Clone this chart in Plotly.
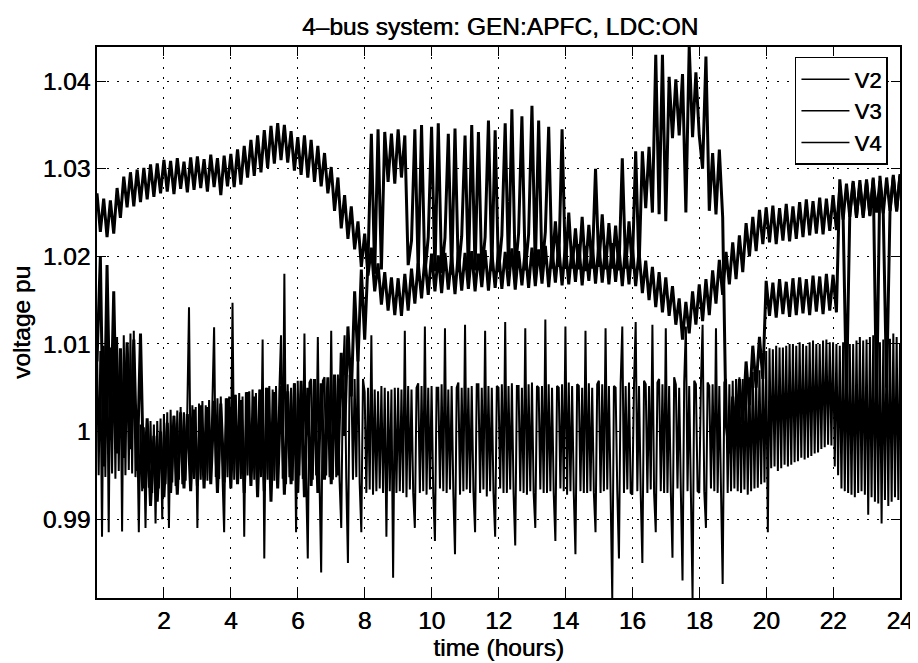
import numpy as np
import plotly.graph_objects as go

# sample times in hours: 6 minute steps for V2/V3, 3 minute steps for V4
hours = np.linspace(0, 24, 241)
hours_v4 = np.linspace(0, 24, 481)

# bus voltages (pu), one row per hour
v2 = [
    1.0272, 1.0228, 1.0266, 1.0222, 1.0264, 1.0226, 1.0278, 1.0244, 1.0291, 1.0256,
    1.0296, 1.0257, 1.0299, 1.0262, 1.0301, 1.0265, 1.0305, 1.0268, 1.0306, 1.0272,
    1.0310, 1.0274, 1.0309, 1.0271, 1.0312, 1.0277, 1.0308, 1.0273, 1.0313, 1.0276,
    1.0314, 1.0278, 1.0311, 1.0274, 1.0316, 1.0279, 1.0312, 1.0270, 1.0315, 1.0280,
    1.0317, 1.0279, 1.0322, 1.0282, 1.0326, 1.0290, 1.0333, 1.0292, 1.0338, 1.0296,
    1.0344, 1.0301, 1.0349, 1.0306, 1.0352, 1.0310, 1.0350, 1.0307, 1.0343, 1.0298,
    1.0336, 1.0293, 1.0338, 1.0290, 1.0333, 1.0285, 1.0326, 1.0280, 1.0318, 1.0272,
    1.0302, 1.0252, 1.0290, 1.0232, 1.0270, 1.0220, 1.0257, 1.0208, 1.0240, 1.0188,
    1.0226, 1.0178, 1.0210, 1.0160, 1.0192, 1.0145, 1.0182, 1.0138, 1.0176, 1.0133,
    1.0175, 1.0132, 1.0180, 1.0138, 1.0186, 1.0146, 1.0192, 1.0152, 1.0198, 1.0156,
    1.0203, 1.0160, 1.0201, 1.0158, 1.0204, 1.0162, 1.0200, 1.0157, 1.0205, 1.0161,
    1.0204, 1.0163, 1.0206, 1.0160, 1.0203, 1.0165, 1.0207, 1.0161, 1.0205, 1.0164,
    1.0207, 1.0163, 1.0205, 1.0166, 1.0209, 1.0162, 1.0206, 1.0167, 1.0208, 1.0164,
    1.0210, 1.0166, 1.0208, 1.0169, 1.0212, 1.0165, 1.0209, 1.0170, 1.0211, 1.0167,
    1.0213, 1.0168, 1.0211, 1.0171, 1.0214, 1.0167, 1.0212, 1.0172, 1.0215, 1.0169,
    1.0214, 1.0170, 1.0212, 1.0168, 1.0215, 1.0171, 1.0210, 1.0166, 1.0213, 1.0168,
    1.0212, 1.0166, 1.0206, 1.0158, 1.0195, 1.0150, 1.0188, 1.0142, 1.0182, 1.0136,
    1.0176, 1.0132, 1.0166, 1.0122, 1.0152, 1.0105, 1.0148, 1.0112, 1.0160, 1.0122,
    1.0168, 1.0126, 1.0174, 1.0133, 1.0184, 1.0146, 1.0196, 1.0156, 1.0205, 1.0168,
    1.0216, 1.0174, 1.0224, 1.0182, 1.0238, 1.0200, 1.0245, 1.0206, 1.0253, 1.0214,
    1.0256, 1.0216, 1.0258, 1.0214, 1.0255, 1.0218, 1.0260, 1.0217, 1.0257, 1.0220,
    1.0262, 1.0222, 1.0265, 1.0224, 1.0263, 1.0226, 1.0267, 1.0225, 1.0266, 1.0229,
    1.0270, 1.0230, 1.0278, 1.0242, 1.0283, 1.0245, 1.0284, 1.0246, 1.0282, 1.0244,
    1.0285, 1.0247, 1.0288, 1.0250, 1.0286, 1.0249, 1.0290, 1.0252, 1.0291, 1.0253,
    1.0292,
]

v3 = [
    1.0080, 1.0200, 0.9960, 1.0190, 0.9990, 1.0160, 0.9975, 1.0095, 0.9970, 1.0102,
    0.9980, 1.0105, 0.9955, 1.0112, 0.9935, 1.0015, 0.9915, 0.9995, 0.9920, 1.0000,
    0.9925, 1.0010, 0.9930, 1.0018, 0.9928, 1.0022, 0.9935, 1.0020, 0.9932, 1.0025,
    0.9938, 1.0030, 0.9935, 1.0028, 0.9940, 1.0035, 0.9930, 1.0032, 0.9942, 1.0038,
    0.9935, 1.0042, 0.9940, 1.0036, 0.9930, 1.0045, 0.9938, 1.0040, 0.9925, 1.0048,
    0.9932, 1.0050, 0.9920, 1.0045, 0.9935, 1.0052, 0.9928, 1.0046, 0.9940, 1.0055,
    0.9930, 1.0058, 0.9925, 1.0050, 0.9938, 1.0060, 0.9930, 1.0055, 0.9945, 1.0062,
    0.9940, 1.0065, 0.9950, 1.0090, 0.9995, 1.0120, 1.0040, 1.0160, 1.0080, 1.0185,
    1.0105, 1.0195, 1.0340, 1.0180, 1.0345, 1.0185, 1.0342, 1.0285, 1.0340, 1.0283,
    1.0345, 1.0290, 1.0338, 1.0190, 1.0218, 1.0345, 1.0182, 1.0350, 1.0180, 1.0222,
    1.0348, 1.0183, 1.0352, 1.0181, 1.0221, 1.0340, 1.0179, 1.0346, 1.0182, 1.0223,
    1.0338, 1.0180, 1.0350, 1.0184, 1.0342, 1.0181, 1.0222, 1.0355, 1.0183, 1.0344,
    1.0182, 1.0224, 1.0352, 1.0185, 1.0368, 1.0183, 1.0226, 1.0360, 1.0184, 1.0225,
    1.0372, 1.0186, 1.0355, 1.0185, 1.0228, 1.0348, 1.0186, 1.0240, 1.0188, 1.0345,
    1.0187, 1.0250, 1.0186, 1.0232, 1.0185, 1.0245, 1.0183, 1.0236, 1.0186, 1.0300,
    1.0188, 1.0248, 1.0185, 1.0238, 1.0186, 1.0235, 1.0184, 1.0312, 1.0186, 1.0240,
    1.0187, 1.0320, 1.0185, 1.0320, 1.0255, 1.0325, 1.0250, 1.0430, 1.0248, 1.0430,
    1.0240, 1.0405, 1.0335, 1.0402, 1.0338, 1.0408, 1.0250, 1.0440, 1.0336, 1.0410,
    1.0338, 1.0300, 1.0428, 1.0252, 1.0318, 1.0248, 1.0322, 1.0245, 1.0010, 0.9975,
    1.0040, 0.9990, 1.0060, 1.0010, 1.0080, 1.0030, 1.0098, 1.0050, 1.0108, 1.0060,
    1.0172, 1.0132, 1.0170, 1.0130, 1.0174, 1.0134, 1.0171, 1.0131, 1.0175, 1.0133,
    1.0176, 1.0135, 1.0174, 1.0133, 1.0178, 1.0137, 1.0177, 1.0134, 1.0180, 1.0138,
    1.0179, 1.0136, 1.0288, 1.0246, 1.0040, 1.0250, 1.0286, 1.0244, 1.0287, 1.0247,
    1.0288, 1.0246, 1.0290, 1.0030, 1.0292, 1.0249, 1.0050, 1.0250, 1.0293, 1.0251,
    1.0294,
]

v4 = [
    1.0100, 0.9950, 1.0092, 0.9880, 1.0098, 0.9948, 1.0105, 0.9885, 1.0096, 0.9952,
    1.0102, 0.9946, 1.0108, 0.9955, 1.0094, 0.9886, 1.0110, 0.9950, 1.0098, 0.9956,
    1.0112, 0.9952, 1.0115, 0.9948, 1.0015, 0.9885, 1.0008, 0.9932, 1.0005, 0.9890,
    1.0010, 0.9936, 1.0012, 0.9930, 1.0008, 0.9895, 1.0012, 0.9935, 1.0015, 0.9900,
    1.0020, 0.9940, 1.0022, 0.9890, 1.0025, 0.9942, 1.0018, 0.9938, 1.0024, 0.9945,
    1.0028, 0.9940, 1.0022, 0.9944, 1.0026, 1.0142, 0.9942, 1.0030, 0.9946, 1.0028,
    0.9890, 1.0032, 0.9945, 1.0035, 0.9948, 1.0030, 0.9944, 1.0036, 0.9950, 1.0034,
    1.0119, 0.9948, 1.0038, 0.9946, 1.0040, 0.9950, 0.9885, 1.0038, 0.9948, 1.0040,
    0.9952, 1.0147, 0.9945, 1.0042, 0.9950, 1.0044, 0.9946, 1.0040, 0.9880, 1.0045,
    0.9950, 1.0046, 0.9948, 1.0048, 0.9945, 1.0044, 0.9950, 1.0048, 0.9948, 1.0105,
    0.9855, 1.0050, 0.9945, 1.0052, 0.9948, 1.0048, 0.9944, 1.0052, 0.9950, 1.0046,
    1.0110, 0.9946, 1.0180, 0.9940, 1.0054, 0.9948, 1.0050, 0.9944, 1.0055, 0.9885,
    1.0058, 0.9950, 1.0054, 0.9946, 1.0112, 0.9948, 0.9855, 1.0056, 1.0060, 0.9945,
    1.0052, 0.9950, 1.0108, 0.9946, 0.9839, 1.0058, 1.0062, 0.9950, 1.0056, 0.9948,
    1.0115, 0.9945, 1.0060, 0.9948, 1.0065, 0.9944, 0.9890, 1.0062, 1.0110, 0.9946,
    0.9850, 1.0064, 1.0068, 0.9945, 1.0060, 0.9948, 1.0105, 0.9942, 0.9885, 1.0060,
    1.0045, 0.9930, 1.0050, 0.9934, 1.0110, 0.9928, 1.0048, 0.9932, 1.0046, 0.9935,
    1.0052, 0.9930, 1.0050, 0.9880, 1.0046, 0.9932, 1.0048, 0.9833, 1.0050, 0.9930,
    1.0050, 0.9932, 1.0048, 0.9930, 1.0115, 0.9925, 1.0052, 0.9934, 1.0048, 0.9930,
    0.9890, 1.0050, 1.0055, 0.9930, 1.0052, 0.9932, 1.0120, 0.9928, 1.0050, 0.9934,
    1.0052, 0.9930, 0.9875, 1.0050, 1.0050, 0.9935, 1.0054, 0.9932, 1.0118, 0.9930,
    1.0048, 0.9934, 1.0052, 0.9930, 0.9860, 1.0050, 1.0056, 0.9928, 1.0050, 0.9932,
    1.0122, 0.9934, 1.0050, 0.9930, 1.0052, 0.9932, 0.9885, 1.0054, 1.0054, 0.9930,
    1.0050, 0.9934, 1.0115, 0.9926, 1.0052, 0.9932, 1.0050, 0.9930, 0.9880, 1.0052,
    1.0050, 0.9935, 1.0054, 0.9930, 1.0125, 0.9930, 1.0052, 0.9934, 1.0055, 0.9930,
    0.9870, 1.0052, 1.0052, 0.9932, 1.0050, 0.9930, 1.0118, 0.9928, 1.0054, 0.9932,
    1.0056, 0.9930, 0.9890, 1.0052, 1.0050, 0.9934, 1.0052, 0.9930, 1.0128, 0.9930,
    1.0054, 0.9932, 1.0050, 0.9930, 0.9875, 1.0052, 1.0050, 0.9935, 1.0054, 0.9932,
    1.0120, 0.9928, 1.0056, 0.9932, 1.0052, 0.9930, 0.9860, 1.0054, 1.0052, 0.9932,
    1.0050, 0.9930, 1.0115, 0.9930, 1.0055, 0.9932, 1.0050, 0.9930, 0.9885, 1.0054,
    1.0058, 0.9930, 1.0054, 0.9932, 1.0118, 0.9934, 1.0052, 0.9930, 0.9810, 1.0052,
    1.0050, 0.9932, 0.9855, 1.0054, 1.0120, 0.9930, 1.0052, 0.9934, 1.0056, 0.9930,
    0.9928, 1.0054, 1.0125, 0.9932, 1.0052, 0.9930, 0.9850, 1.0058, 1.0054, 0.9930,
    1.0052, 0.9934, 1.0122, 0.9930, 0.9885, 1.0056, 1.0060, 0.9932, 1.0054, 0.9930,
    1.0118, 0.9930, 1.0052, 0.9932, 0.9856, 1.0062, 1.0054, 0.9935, 1.0050, 0.9932,
    0.9830, 1.0056, 1.0120, 0.9932, 1.0052, 0.9930, 0.9810, 1.0058, 1.0054, 0.9932,
    0.9930, 1.0054, 1.0122, 0.9932, 0.9890, 1.0056, 1.0052, 0.9935, 1.0054, 0.9932,
    1.0118, 0.9930, 1.0052, 0.9933, 0.9826, 1.0056, 1.0060, 0.9930, 1.0054, 0.9932,
    1.0058, 0.9935, 1.0060, 0.9932, 1.0062, 0.9930, 1.0060, 0.9934, 1.0065, 0.9928,
    1.0062, 0.9932, 1.0068, 0.9935, 1.0066, 0.9936, 1.0070, 0.9940, 1.0072, 0.9942,
    1.0092, 0.9885, 1.0095, 0.9958, 1.0094, 0.9960, 1.0098, 0.9955, 1.0096, 0.9958,
    1.0096, 0.9962, 1.0098, 0.9960, 1.0100, 0.9962, 1.0100, 0.9965, 1.0098, 0.9966,
    1.0102, 0.9970, 1.0100, 0.9968, 1.0098, 0.9970, 1.0102, 0.9972, 1.0104, 0.9975,
    1.0100, 0.9976, 1.0100, 0.9980, 1.0104, 0.9982, 1.0105, 0.9985, 1.0102, 0.9984,
    1.0102, 0.9960, 1.0100, 0.9950, 1.0098, 0.9935, 1.0102, 0.9932, 1.0105, 0.9930,
    1.0100, 0.9928, 1.0100, 0.9925, 1.0104, 0.9930, 1.0108, 0.9932, 1.0104, 0.9928,
    1.0105, 0.9905, 1.0108, 0.9925, 1.0110, 0.9920, 1.0106, 0.9918, 1.0102, 0.9895,
    1.0105, 0.9922, 1.0108, 0.9915, 1.0106, 0.9920, 1.0112, 0.9925, 1.0108, 0.9922,
    1.0100,
]

x_ticks = [2, 4, 6, 8, 10, 12, 14, 16, 18, 20, 22, 24]
y_ticks = [0.99, 1.0, 1.01, 1.02, 1.03, 1.04]
y_labels = ['0.99', '1', '1.01', '1.02', '1.03', '1.04']

font = dict(family='Liberation Sans, Arial, Helvetica, sans-serif', size=24.5, color='black',
            shadow='0.5px 0px 0px black')

fig = go.Figure()
for name, xs, vals, w in [('V2', hours, v2, 3.0), ('V3', hours, v3, 3.0), ('V4', hours_v4, v4, 2.0)]:
    fig.add_trace(go.Scatter(x=xs, y=vals, mode='lines', name=name, legendgroup=name,
                             showlegend=False, line=dict(color='black', width=w)))
    # thin line just for the legend key
    fig.add_trace(go.Scatter(x=[None], y=[None], mode='lines', name=name, legendgroup=name,
                             line=dict(color='black', width=1.5)))

axis_style = dict(showline=True, linecolor='black', linewidth=1.5, mirror='ticks',
                  ticks='inside', ticklen=9, tickwidth=1, tickcolor='black',
                  showgrid=True, gridcolor='black', gridwidth=1, griddash='2px,8px',
                  zeroline=False, tickfont=font, automargin=False)

# the page body adds an 8px offset, so margins are shifted to compensate
fig.update_layout(
    width=918, height=663,
    margin=dict(l=89, r=26, t=39, b=73),
    paper_bgcolor='white', plot_bgcolor='white',
    font=font,
    title=dict(text='4–bus system: GEN:APFC, LDC:ON', x=0.536, xanchor='center',
               y=0.985, yanchor='top', pad=dict(t=0), font=font),
    xaxis=dict(range=[0, 24], tickvals=x_ticks, ticktext=[str(v) for v in x_ticks],
               title=dict(text='time (hours)', standoff=0, font=font), **axis_style),
    yaxis=dict(range=[0.981, 1.0439], tickvals=y_ticks, ticktext=y_labels,
               title=dict(text='voltage pu', standoff=19, font=font), **axis_style),
    legend=dict(x=0.985, y=0.982, xanchor='right', yanchor='top',
                bgcolor='white', bordercolor='black', borderwidth=1.5,
                font=dict(family=font['family'], size=22, color='black', shadow=font['shadow']),
                tracegroupgap=0, itemwidth=48),
    showlegend=True,
)

fig.write_html("out.html")
